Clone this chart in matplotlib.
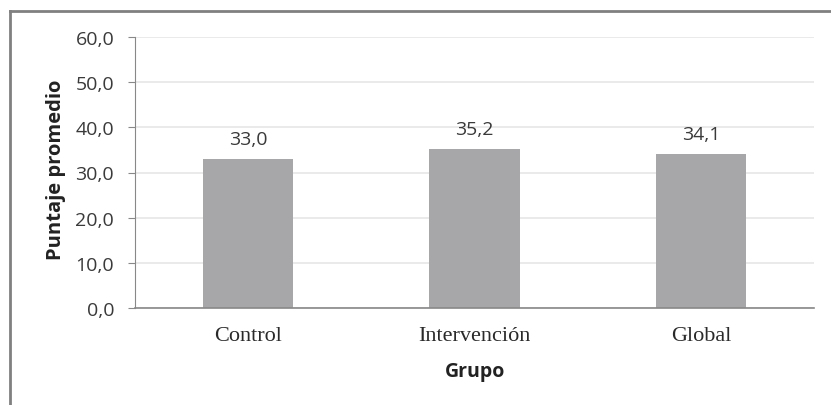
import matplotlib.pyplot as plt
from matplotlib.lines import Line2D

grupos = ['Control', 'Intervención', 'Global']
puntajes = [33.0, 35.2, 34.1]
yticks = [0, 10, 20, 30, 40, 50, 60]

fig = plt.figure(figsize=(8.31, 4.06), dpi=100)
ax = fig.add_axes([135 / 831, 1 - 309 / 406, 679 / 831, 271 / 406])

x = range(len(grupos))
ax.bar(x, puntajes, width=0.4, color='#a7a7aa', zorder=2)
for xi, v in zip(x, puntajes):
    ax.text(xi, v + 3.3, f'{v:.1f}'.replace('.', ','), ha='center', va='baseline',
            fontsize=14, family='Open Sans', color='#3a3a3a')

ax.set_xlim(-0.5, 2.5)
ax.set_ylim(0, 60)
ax.set_yticks(yticks)
ax.set_yticklabels([f'{t:.1f}'.replace('.', ',') for t in yticks],
                   fontsize=14, family='Open Sans', color='#3a3a3a')
ax.set_xticks(list(x))
ax.set_xticklabels(grupos, fontsize=16, family='Liberation Serif', color='#2a2a2a')
ax.tick_params(axis='x', length=0, pad=13)
ax.tick_params(axis='y', length=5, color='#888888', pad=10)
ax.yaxis.grid(True, color='#e6e6e6', linewidth=1.2, zorder=0)

for s in ['top', 'right']:
    ax.spines[s].set_visible(False)
ax.spines['left'].set_color('#888888')
ax.spines['bottom'].set_color('#888888')
ax.spines['bottom'].set_linewidth(1.2)

fig.text(56 / 831, 1 - 170 / 406, 'Puntaje promedio', rotation=90, ha='center', va='center',
         fontsize=14.5, fontweight='bold', family='Open Sans', color='#222222')
fig.text(475 / 831, 1 - 372 / 406, 'Grupo', ha='center', va='center',
         fontsize=14, fontweight='bold', family='Open Sans', color='#222222')

# outer frame (top and left edges)
fig.add_artist(Line2D([10 / 831, 10 / 831], [0, 1 - 12 / 406], color='#808080', lw=2,
                      transform=fig.transFigure))
fig.add_artist(Line2D([10 / 831, 1], [1 - 12 / 406, 1 - 12 / 406], color='#808080', lw=2,
                      transform=fig.transFigure))

fig.savefig('out.png', dpi=100)
